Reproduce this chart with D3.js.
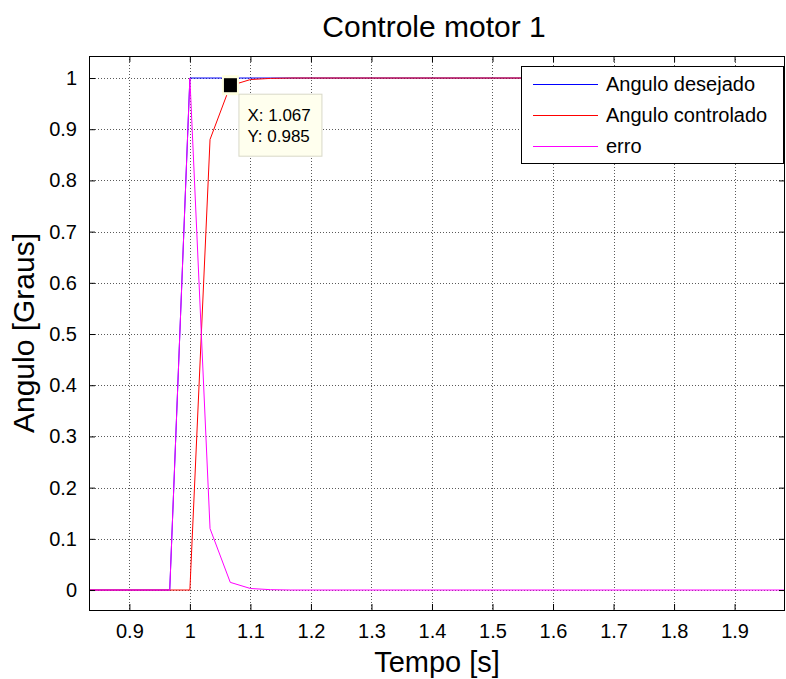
<!DOCTYPE html>
<html>
<head>
<meta charset="utf-8">
<script src="https://cdn.jsdelivr.net/npm/d3@7"></script>
<style>
  html, body { margin: 0; padding: 0; background: #fff; }
  svg { display: block; font-family: Arial, "Liberation Sans", sans-serif; }
</style>
</head>
<body>
<svg id="chart" width="786" height="679"></svg>
<script>
// Sample instants (s) where the responses change slope
const tempo = [0.8333, 0.9667, 1.0, 1.0333, 1.0667, 1.1, 1.1333, 1.1667, 1.2, 1.9833];
// Step reference, plant response and tracking error
const anguloDesejado    = [0, 0, 1, 1, 1, 1, 1, 1, 1, 1];
const anguloControlado  = [0, 0, 0, 0.88, 0.985, 0.997, 0.9993, 1, 1, 1];
const erro              = [0, 0, 1, 0.12, 0.015, 0.003, 0.0007, 0, 0, 0];

const xTicks = [0.9, 1.0, 1.1, 1.2, 1.3, 1.4, 1.5, 1.6, 1.7, 1.8, 1.9];
const yTicks = [0, 0.1, 0.2, 0.3, 0.4, 0.5, 0.6, 0.7, 0.8, 0.9, 1];
const xDomain = [0.8333, 1.9833];
const yDomain = [-0.039, 1.043];

const seriesNames = ["Angulo desejado", "Angulo controlado", "erro"];
const seriesColors = ["#0000ff", "#ff0000", "#ff00ff"];

// Marked point on the controlled response
const tipX = 1.067, tipY = 0.985;

const svg = d3.select("#chart");
const m = { left: 89, right: 785, top: 56, bottom: 610 };

const x = d3.scaleLinear().domain(xDomain).range([m.left, m.right]);
const y = d3.scaleLinear().domain(yDomain).range([m.bottom, m.top]);

const clipId = "plotclip";
svg.append("defs").append("clipPath").attr("id", clipId)
  .append("rect").attr("x", m.left).attr("y", m.top)
  .attr("width", m.right - m.left).attr("height", m.bottom - m.top);

// Dotted grid
const grid = svg.append("g").attr("stroke", "#5a5a5a").attr("stroke-width", 1)
  .attr("stroke-dasharray", "1,2").attr("shape-rendering", "crispEdges");
grid.selectAll(".gx").data(xTicks).join("line")
  .attr("x1", d => Math.round(x(d)) + 0.5).attr("x2", d => Math.round(x(d)) + 0.5)
  .attr("y1", m.top).attr("y2", m.bottom);
grid.selectAll(".gy").data(yTicks).join("line")
  .attr("y1", d => Math.round(y(d)) + 0.5).attr("y2", d => Math.round(y(d)) + 0.5)
  .attr("x1", m.left).attr("x2", m.right);

// Data lines
const allSeries = [anguloDesejado, anguloControlado, erro];
const line = d3.line().x((d, i) => x(tempo[i])).y(d => y(d));
const lines = svg.append("g").attr("clip-path", `url(#${clipId})`);
allSeries.forEach((s, k) => {
  lines.append("path").datum(s)
    .attr("d", line)
    .attr("fill", "none")
    .attr("stroke", seriesColors[k])
    .attr("stroke-width", 1);
});

// Axes: ticks pointing inward on all four sides
const tickLen = 6;
const axB = d3.axisBottom(x).tickValues(xTicks).tickSize(-tickLen).tickPadding(14)
  .tickFormat(d3.format("~g"));
const axT = d3.axisTop(x).tickValues(xTicks).tickSize(-tickLen).tickFormat("");
const axL = d3.axisLeft(y).tickValues(yTicks).tickSize(-tickLen).tickPadding(12)
  .tickFormat(d3.format("~g"));
const axR = d3.axisRight(y).tickValues(yTicks).tickSize(-tickLen).tickFormat("");

function styleAxis(g) {
  g.select(".domain").remove();
  g.selectAll(".tick line").attr("stroke", "#000");
  g.selectAll(".tick text").attr("fill", "#000").attr("font-size", 20)
    .attr("font-family", "Arial, 'Liberation Sans', sans-serif");
}
svg.append("g").attr("transform", `translate(0,${m.bottom})`).call(axB).call(styleAxis);
svg.append("g").attr("transform", `translate(0,${m.top})`).call(axT).call(styleAxis);
svg.append("g").attr("transform", `translate(${m.left},0)`).call(axL).call(styleAxis);
svg.append("g").attr("transform", `translate(${m.right},0)`).call(axR).call(styleAxis);

// Axes box
svg.append("rect")
  .attr("x", m.left + 0.5).attr("y", m.top + 0.5)
  .attr("width", m.right - m.left - 1).attr("height", m.bottom - m.top)
  .attr("fill", "none").attr("stroke", "#000").attr("stroke-width", 1);

// Data tip
const px = x(tipX), py = y(tipY);
svg.append("rect").attr("x", px - 8.5).attr("y", py - 10.5).attr("width", 17).attr("height", 20)
  .attr("fill", "#ffffe0").attr("stroke", "none");
svg.append("rect").attr("x", px - 6.5).attr("y", py - 7.5).attr("width", 13).attr("height", 14)
  .attr("fill", "#000");
const tip = svg.append("g").attr("transform", `translate(${px + 8},${py + 8})`);
tip.append("rect").attr("x", 0.5).attr("y", 0.5).attr("width", 83).attr("height", 62)
  .attr("fill", "#ffffee").attr("stroke", "#d8d8c8").attr("stroke-width", 1);
tip.append("text").attr("x", 9).attr("y", 27).attr("font-size", 17).attr("fill", "#000")
  .text("X: " + tipX.toFixed(3));
tip.append("text").attr("x", 9).attr("y", 48).attr("font-size", 17).attr("fill", "#000")
  .text("Y: " + tipY.toFixed(3));

// Legend
const lg = svg.append("g").attr("transform", "translate(521,66)");
lg.append("rect").attr("x", 0.5).attr("y", 0.5).attr("width", 262).attr("height", 97)
  .attr("fill", "#fff").attr("stroke", "#000").attr("stroke-width", 1);
seriesNames.forEach((name, k) => {
  const yy = 18 + k * 31;
  lg.append("line").attr("x1", 12).attr("x2", 77).attr("y1", yy + 0.5).attr("y2", yy + 0.5)
    .attr("stroke", seriesColors[k]).attr("stroke-width", 1);
  lg.append("text").attr("x", 85).attr("y", yy + 7).attr("font-size", 20).attr("fill", "#000")
    .text(name);
});

// Title and axis labels
svg.append("text").attr("x", (m.left + m.right) / 2 - 3).attr("y", 37)
  .attr("text-anchor", "middle").attr("font-size", 30).attr("fill", "#000")
  .text("Controle motor 1");
svg.append("text").attr("x", (m.left + m.right) / 2).attr("y", 672)
  .attr("text-anchor", "middle").attr("font-size", 29).attr("fill", "#000")
  .text("Tempo [s]");
svg.append("text")
  .attr("transform", `translate(34,${(m.top + m.bottom) / 2}) rotate(-90)`)
  .attr("text-anchor", "middle").attr("font-size", 30).attr("fill", "#000")
  .text("Angulo [Graus]");
</script>
</body>
</html>
